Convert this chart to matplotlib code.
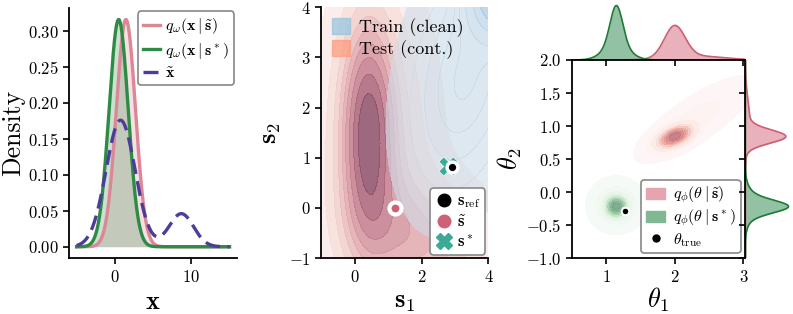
import numpy as np
import matplotlib.pyplot as plt
from matplotlib.colors import LinearSegmentedColormap
from matplotlib.patches import Patch
from matplotlib.lines import Line2D

plt.rcParams.update({
    'font.family': 'serif',
    'font.serif': ['cmr10'],
    'mathtext.fontset': 'cm',
    'axes.formatter.use_mathtext': True,
    'axes.linewidth': 1.3,
    'xtick.major.width': 1.2,
    'ytick.major.width': 1.2,
    'xtick.major.size': 4,
    'ytick.major.size': 4,
    'xtick.labelsize': 12,
    'ytick.labelsize': 12,
    'legend.fancybox': True,
})

# --- panel 1: 1d densities, bumps given as (centre, peak height, width)
x_range = (-5, 15)
q_tilde_bumps = [(1.45, 0.316, 1.25)]
q_star_bumps = [(0.5, 0.316, 1.25)]
x_tilde_bumps = [(0.75, 0.176, 1.9), (8.7, 0.046, 1.6)]

# --- panel 2: summary-space kde, gaussian components (mx, my, sx, sy, rho, weight)
train_comps = [(3.3, 2.6, 1.1, 1.5, 0.3, 0.55),
               (4.3, 4.3, 0.55, 0.55, 0.0, 0.45)]
test_comps = [(0.4, 1.5, 0.5, 1.4, 0.0, 0.35),
              (0.7, 1.2, 1.0, 2.0, 0.0, 0.4),
              (2.0, -0.6, 1.3, 0.8, -0.2, 0.25)]
s_ref = (2.9, 0.81)
s_tilde = (1.22, 0.0)
s_star = (2.8, 0.83)

# --- panel 3: posterior samples as gaussian components
post_tilde_comps = [(2.0, 0.84, 0.15, 0.1, 0.5, 0.75),
                    (2.3, 1.1, 0.4, 0.3, 0.8, 0.25)]
post_star_comps = [(1.15, -0.22, 0.09, 0.09, 0.0, 0.55),
                   (1.15, -0.2, 0.18, 0.18, 0.0, 0.45)]
theta_true = (1.275, -0.28)

pink = '#dc8796'
green = '#2e8b46'
navy = '#4c3d9a'
dot_pink = '#cd6175'
teal = '#3caa96'
test_cmap = LinearSegmentedColormap.from_list(
    'test', ['#fcf0ee', '#f3d2ce', '#e2aaae', '#c98290', '#a45d74', '#7e4460'])
train_cmap = LinearSegmentedColormap.from_list(
    'train', ['#d0dde9', '#b2cde4', '#6fa9da'])
post_tilde_cmap = LinearSegmentedColormap.from_list(
    'pt', ['#fef8f7', '#fbe0da', '#f2aea6', '#dc8a88', '#b36f78'])
post_star_cmap = LinearSegmentedColormap.from_list(
    'ps', ['#f7fbf7', '#e0f1e0', '#a8d3b0', '#80b590', '#6f9d80'])


def bumps(x, params):
    return sum(h * np.exp(-0.5 * ((x - m) / s) ** 2) for m, h, s in params)


def mixture(X, Y, comps):
    z = np.zeros_like(X)
    for mx, my, sx, sy, rho, w in comps:
        dx = (X - mx) / sx
        dy = (Y - my) / sy
        q = (dx ** 2 - 2 * rho * dx * dy + dy ** 2) / (1 - rho ** 2)
        z += w * np.exp(-0.5 * q) / (2 * np.pi * sx * sy * np.sqrt(1 - rho ** 2))
    return z


def iso_levels(z, n=10, thresh=0.05):
    vals = np.sort(z.ravel())[::-1]
    mass = np.cumsum(vals) / vals.sum()
    props = np.linspace(thresh, 1, n)
    idx = np.searchsorted(mass, 1 - props)
    levels = np.sort(np.take(vals, idx, mode='clip'))
    return np.append(levels[:-1], z.max() * 1.01)


def styled_legend(ax, **kw):
    leg = ax.legend(framealpha=1, **kw)
    leg.get_frame().set_edgecolor('#888888')
    leg.get_frame().set_linewidth(1.2)
    return leg


fig = plt.figure(figsize=(7.93, 3.14), dpi=100)

# ---------------- panel 1
ax1 = fig.add_axes([0.087, 0.178, 0.212, 0.796])
xs = np.linspace(x_range[0], x_range[1], 500)
y_tilde = bumps(xs, q_tilde_bumps)
y_star = bumps(xs, q_star_bumps)
y_x = bumps(xs, x_tilde_bumps)
ax1.fill_between(xs, y_tilde, color=pink, alpha=0.25, lw=0)
ax1.fill_between(xs, y_star, color=green, alpha=0.25, lw=0)
ax1.plot(xs, y_tilde, color=pink, lw=2.4, label=r'$q_\omega(\mathbf{x}\mid\tilde{\mathbf{s}})$')
ax1.plot(xs, y_star, color=green, lw=2.4, label=r'$q_\omega(\mathbf{x}\mid\mathbf{s}^*)$')
ax1.plot(xs, y_x, color=navy, lw=2.4, dashes=(4.5, 2.2), label=r'$\tilde{\mathbf{x}}$')
ax1.set_yticks(np.arange(0, 0.31, 0.05))
ax1.set_xticks([0, 10])
ax1.set_ylabel('Density', fontsize=18.5, labelpad=2)
ax1.set_xlabel(r'$\mathbf{x}$', fontsize=19)
ax1.spines[['top', 'right']].set_visible(False)
styled_legend(ax1, loc='upper right', fontsize=11.5, handlelength=1.1, handletextpad=0.3,
              borderpad=0.3, labelspacing=0.3, borderaxespad=0.2)

# ---------------- panel 2
ax2 = fig.add_axes([0.405, 0.178, 0.211, 0.799])
g = np.linspace(-4, 7, 400)
SX, SY = np.meshgrid(g, g)
z_test = mixture(SX, SY, test_comps)
z_train = mixture(SX, SY, train_comps)
ax2.contourf(SX, SY, z_test, levels=iso_levels(z_test, 10, 0.05), cmap=test_cmap, alpha=0.85)
ax2.contourf(SX, SY, z_train, levels=iso_levels(z_train, 10, 0.05), cmap=train_cmap, alpha=0.6)
ax2.scatter(*s_star, marker='X', s=190, color=teal, edgecolor='white', lw=0.5, zorder=3)
ax2.scatter(*s_ref, marker='o', s=60, color='black', edgecolor='white', lw=2.5, zorder=4)
ax2.scatter(*s_tilde, marker='o', s=75, color=dot_pink, edgecolor='white', lw=3, zorder=4)
ax2.set_xlim(-1, 4)
ax2.set_ylim(-1, 4)
ax2.set_xticks([0, 2, 4])
ax2.set_yticks(range(-1, 5))
ax2.set_xlabel(r'$\mathbf{s}_1$', fontsize=19)
ax2.set_ylabel(r'$\mathbf{s}_2$', fontsize=19)
ax2.spines[['top', 'right']].set_visible(False)
top_leg = ax2.legend(handles=[Patch(color=plt.cm.Blues(0.4), alpha=0.7, label='Train (clean)'),
                              Patch(color=plt.cm.Reds(0.35), alpha=0.7, label='Test (cont.)')],
                     loc='upper left', frameon=False, fontsize=13, handlelength=1.0,
                     handleheight=1.0, handletextpad=0.5, labelspacing=0.15,
                     borderaxespad=0.2)
ax2.add_artist(top_leg)
styled_legend(ax2, handles=[
    Line2D([], [], ls='', marker='o', ms=9, color='black', label=r'$\mathbf{s}_{\rm ref}$'),
    Line2D([], [], ls='', marker='o', ms=9, color=dot_pink, label=r'$\tilde{\mathbf{s}}$'),
    Line2D([], [], ls='', marker='X', ms=11, color=teal, label=r'$\mathbf{s}^*$')],
    loc='lower right', fontsize=12, handlelength=1.0, handletextpad=0.3,
    borderpad=0.3, labelspacing=0.2, borderaxespad=0.2)

# ---------------- panel 3 (joint plot)
ax3 = fig.add_axes([0.721, 0.178, 0.219, 0.631])
ax_top = fig.add_axes([0.721, 0.809, 0.219, 0.182], sharex=ax3)
ax_right = fig.add_axes([0.940, 0.178, 0.057, 0.631], sharey=ax3)
t1 = np.linspace(0.0, 3.5, 400)
t2 = np.linspace(-1.5, 2.5, 400)
T1, T2 = np.meshgrid(t1, t2)
z_tilde = mixture(T1, T2, post_tilde_comps)
z_star = mixture(T1, T2, post_star_comps)
ax3.contourf(T1, T2, z_tilde, levels=iso_levels(z_tilde, 10, 0.02), cmap=post_tilde_cmap, alpha=0.9)
ax3.contourf(T1, T2, z_star, levels=iso_levels(z_star, 10, 0.02), cmap=post_star_cmap, alpha=0.9)
ax3.scatter(*theta_true, s=30, color='black', edgecolor='white', lw=1.5, zorder=4)
ax3.set_xlim(0.5, 3.03)
ax3.set_ylim(-1, 2)
ax3.set_xticks([1, 2, 3])
ax3.set_yticks(np.arange(-1, 2.01, 0.5))
ax3.set_xlabel(r'$\theta_1$', fontsize=19, labelpad=1)
ax3.set_ylabel(r'$\theta_2$', fontsize=19, labelpad=1)
ax3.spines[['top', 'right']].set_visible(False)

dt1 = t1[1] - t1[0]
dt2 = t2[1] - t2[0]
for z, col, edge in [(z_tilde, '#e6a4b0', '#cc5f74'), (z_star, '#7fb893', '#1f7a36')]:
    m1 = z.sum(axis=0) * dt2
    m2 = z.sum(axis=1) * dt1
    ax_top.fill_between(t1, m1, color=col, alpha=0.85, lw=0)
    ax_top.plot(t1, m1, color=edge, lw=1.2)
    ax_right.fill_betweenx(t2, m2, color=col, alpha=0.85, lw=0)
    ax_right.plot(m2, t2, color=edge, lw=1.2)
ax_top.set_ylim(0, None)
ax_right.set_xlim(0, None)
ax_top.spines[['top', 'right', 'left']].set_visible(False)
ax_right.spines[['top', 'right', 'bottom']].set_visible(False)
ax_top.tick_params(labelbottom=False, left=False, labelleft=False)
ax_right.tick_params(labelleft=False, bottom=False, labelbottom=False)

styled_legend(ax3, handles=[
    Patch(color='#e6a4b0', label=r'$q_\phi(\theta\mid\tilde{\mathbf{s}})$'),
    Patch(color='#7fb893', label=r'$q_\phi(\theta\mid\mathbf{s}^*)$'),
    Line2D([], [], ls='', marker='o', ms=5, color='black', label=r'$\theta_{\rm true}$')],
    loc='lower right', fontsize=11.5, handlelength=1.2, handletextpad=0.5,
    borderpad=0.3, labelspacing=0.15, borderaxespad=0.3)

fig.savefig('out.png', dpi=100)
